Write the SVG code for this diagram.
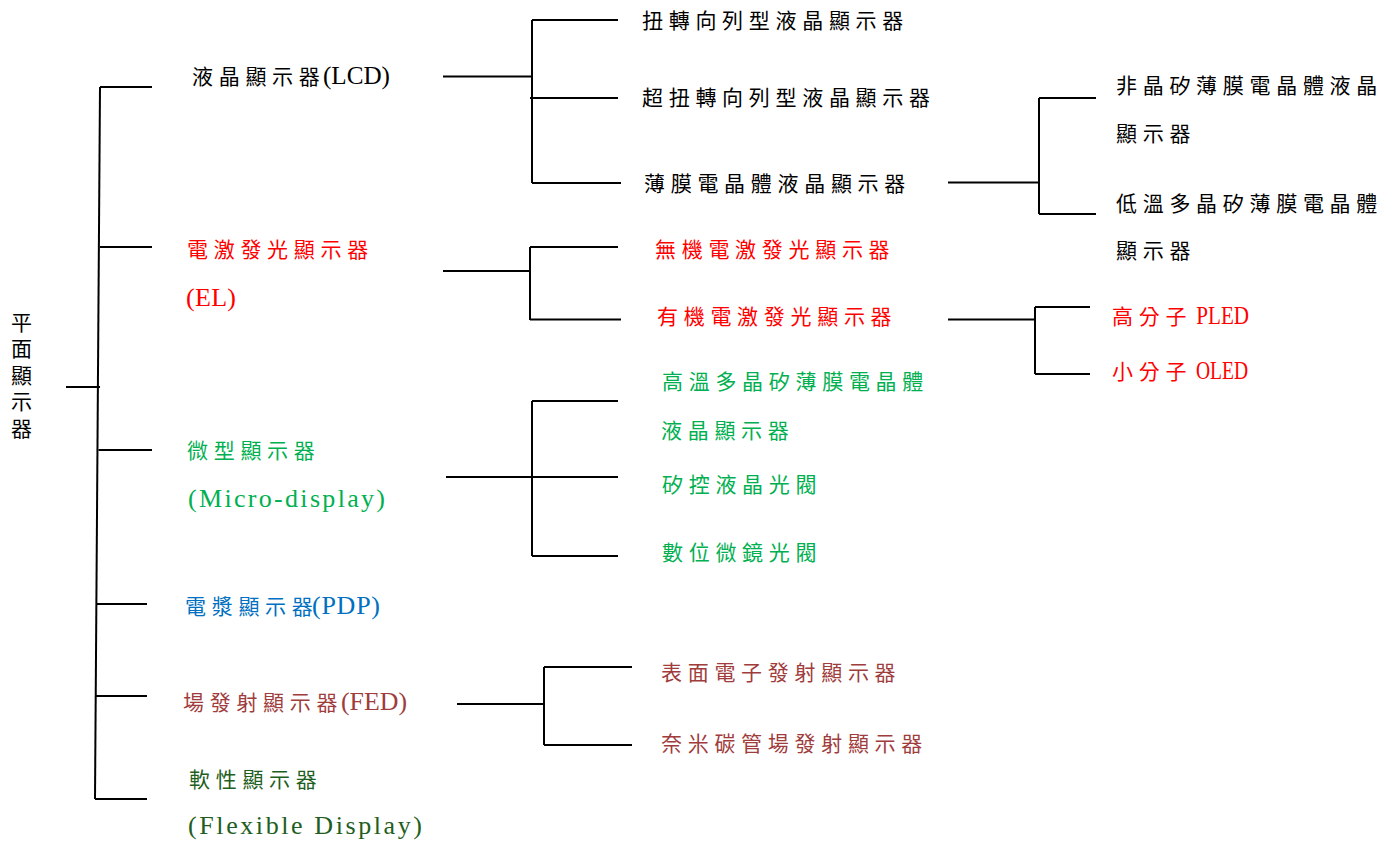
<svg xmlns="http://www.w3.org/2000/svg" width="1383" height="842" viewBox="0 0 1383 842">
<style>
text { font-family: "Liberation Serif", "Noto Sans CJK TC", serif; font-size: 21px; letter-spacing: 5.7px; }
.lat { font-family: "Liberation Serif", serif; font-size: 26px; letter-spacing: 0; }
.k { fill: #000000; }
.r { fill: #FF0000; }
.g { fill: #00B050; }
.b { fill: #0070C0; }
.br { fill: #A03C3C; }
.dg { fill: #1E5E20; }
#connectors path { fill: none; stroke: #000000; stroke-width: 2; }
</style>
<rect width="1383" height="842" fill="#FFFFFF"/>
<g id="connectors">
  <path d="M100,87 L95,799"/>
  <path d="M100,87 H152"/>
  <path d="M100,247 H152"/>
  <path d="M66,387 H100"/>
  <path d="M98.5,450 H152"/>
  <path d="M96,604 H147"/>
  <path d="M95.5,696 H147"/>
  <path d="M95,799 H147"/>
  <path d="M443,76.5 H532"/>
  <path d="M532,20 V183"/>
  <path d="M532,20 H618"/>
  <path d="M530,98 H618"/>
  <path d="M532,183 H621"/>
  <path d="M948,182.5 H1039"/>
  <path d="M1039,98 V214"/>
  <path d="M1039,98 H1096"/>
  <path d="M1039,214 H1096"/>
  <path d="M443,271 H530"/>
  <path d="M530,247 V320"/>
  <path d="M530,247 H618"/>
  <path d="M530,319.5 H621"/>
  <path d="M948,319.5 H1035"/>
  <path d="M1035,307 V374"/>
  <path d="M1035,307 H1090"/>
  <path d="M1035,374 H1090"/>
  <path d="M446,477 H618"/>
  <path d="M532,401 V556"/>
  <path d="M532,401 H618"/>
  <path d="M532,556 H618"/>
  <path d="M457,704 H544"/>
  <path d="M544,667 V745"/>
  <path d="M544,667 H632"/>
  <path d="M544,745 H632"/>
</g>
<g id="root">
  <text class="k"><tspan x="11" y="329.5">平</tspan><tspan x="11" y="356">面</tspan><tspan x="11" y="382.5">顯</tspan><tspan x="11" y="409">示</tspan><tspan x="11" y="435.5">器</tspan></text>
</g>
<g id="lcd">
  <text class="k" x="192" y="84">液晶顯示器<tspan class="lat" x="323" textLength="67" lengthAdjust="spacingAndGlyphs">(LCD)</tspan></text>
</g>
<g id="el">
  <text class="r" x="187" y="257">電激發光顯示器<tspan class="lat" x="186" y="306" textLength="50" lengthAdjust="spacing">(EL)</tspan></text>
</g>
<g id="micro">
  <text class="g" x="187" y="458">微型顯示器<tspan class="lat" x="188" y="507" textLength="197" lengthAdjust="spacing">(Micro-display)</tspan></text>
</g>
<g id="pdp">
  <text class="b" x="185" y="613.5">電漿顯示器<tspan class="lat" x="312" textLength="68" lengthAdjust="spacing">(PDP)</tspan></text>
</g>
<g id="fed">
  <text class="br" x="183" y="710">場發射顯示器<tspan class="lat" x="341" textLength="66" lengthAdjust="spacingAndGlyphs">(FED)</tspan></text>
</g>
<g id="flexible">
  <text class="dg" x="189" y="786.5">軟性顯示器<tspan class="lat" x="188" y="834" textLength="234" lengthAdjust="spacing">(Flexible Display)</tspan></text>
</g>
<g id="tn">
  <text class="k" x="642" y="27.5">扭轉向列型液晶顯示器</text>
</g>
<g id="stn">
  <text class="k" x="642" y="105">超扭轉向列型液晶顯示器</text>
</g>
<g id="tft">
  <text class="k" x="644" y="190.5">薄膜電晶體液晶顯示器</text>
</g>
<g id="a-si">
  <text class="k" x="1116" y="93">非晶矽薄膜電晶體液晶<tspan x="1116" y="140.5">顯示器</tspan></text>
</g>
<g id="ltps">
  <text class="k" x="1116" y="210.5">低溫多晶矽薄膜電晶體<tspan x="1116" y="258">顯示器</tspan></text>
</g>
<g id="inorganic-el">
  <text class="r" x="655" y="256.5">無機電激發光顯示器</text>
</g>
<g id="organic-el">
  <text class="r" x="657" y="323.5">有機電激發光顯示器</text>
</g>
<g id="pled">
  <text class="r" x="1112" y="323.5">高分子<tspan class="lat" x="1191" textLength="58" lengthAdjust="spacingAndGlyphs"> PLED</tspan></text>
</g>
<g id="oled">
  <text class="r" x="1112" y="378.5">小分子<tspan class="lat" x="1191" textLength="57" lengthAdjust="spacingAndGlyphs"> OLED</tspan></text>
</g>
<g id="htps">
  <text class="g" x="662" y="388.5">高溫多晶矽薄膜電晶體<tspan x="661" y="437.5">液晶顯示器</tspan></text>
</g>
<g id="lcos">
  <text class="g" x="662" y="491.5">矽控液晶光閥</text>
</g>
<g id="dmd">
  <text class="g" x="662" y="559.5">數位微鏡光閥</text>
</g>
<g id="sed">
  <text class="br" x="661" y="680">表面電子發射顯示器</text>
</g>
<g id="cnt-fed">
  <text class="br" x="661" y="750.5">奈米碳管場發射顯示器</text>
</g>
</svg>
